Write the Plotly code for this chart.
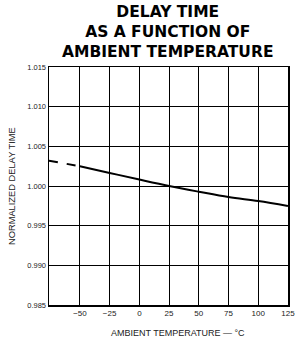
import plotly.graph_objects as go

temps_dashed = [-76, -50]
delay_dashed = [1.0032, 1.00248]
temps_solid = [-50, -25, 0, 25, 50, 75, 100, 125]
delay_solid = [1.00248, 1.00165, 1.00081, 1.0000, 0.99928, 0.9986, 0.9981, 0.99748]

x_ticks = [-50, -25, 0, 25, 50, 75, 100, 125]
x_ticktext = ["\u221250", "\u221225", "0", "25", "50", "75", "100", "125"]
y_ticks = [0.985, 0.990, 0.995, 1.000, 1.005, 1.010, 1.015]
y_ticktext = ["0.985", "0.990", "0.995", "1.000", "1.005", "1.010", "1.015"]

title_text = "DELAY TIME<br>AS A FUNCTION OF<br>AMBIENT TEMPERATURE"
x_title = "AMBIENT TEMPERATURE \u2014 \u00b0C"
y_title = "NORMALIZED DELAY TIME"

font = "Liberation Sans, Arial, sans-serif"
title_font = "DejaVu Sans, Verdana, sans-serif"

W, H = 295, 341
L, R, T, B = 49, 7, 67, 36
pw, ph = W - L - R, H - T - B


def px(xp):
    return (xp - L) / pw


def py(yp):
    return (H - B - yp) / ph


fig = go.Figure()
fig.add_trace(go.Scatter(x=temps_dashed, y=delay_dashed, mode="lines",
                         line=dict(color="black", width=2, dash="dash"),
                         showlegend=False, hoverinfo="skip"))
fig.add_trace(go.Scatter(x=temps_solid, y=delay_solid, mode="lines",
                         line=dict(color="black", width=2, shape="spline"),
                         showlegend=False))

fig.update_layout(
    width=W, height=H,
    margin=dict(l=L, r=R, t=T, b=B, autoexpand=False),
    paper_bgcolor="white", plot_bgcolor="white",
    font=dict(family=font, color="#222"),
    annotations=[
        dict(text="<b>" + title_text + "</b>", xref="paper", yref="paper",
             x=px(167), y=py(32), xanchor="center", yanchor="middle",
             showarrow=False, font=dict(family=title_font, size=15.5, color="black")),
        dict(text=x_title, xref="paper", yref="paper",
             x=px(178), y=py(333), xanchor="center", yanchor="middle",
             showarrow=False, font=dict(family=font, size=9, color="#222")),
        dict(text=y_title, xref="paper", yref="paper", textangle=-90,
             x=px(12), y=py(186), xanchor="center", yanchor="middle",
             showarrow=False, font=dict(family=font, size=9.3, color="#222")),
    ],
)
fig.update_xaxes(range=[-76, 125.05], tickvals=x_ticks, ticktext=x_ticktext,
                 showgrid=True, gridcolor="black", gridwidth=1,
                 showline=True, linecolor="black", linewidth=1.5, mirror=True,
                 ticks="", tickfont=dict(size=8, color="#222"),
                 ticklabeloverflow="allow",
                 zeroline=False, automargin=False)
fig.update_yaxes(range=[0.985, 1.015], tickvals=y_ticks, ticktext=y_ticktext,
                 showgrid=True, gridcolor="black", gridwidth=1,
                 showline=True, linecolor="black", linewidth=1.5, mirror=True,
                 ticks="", tickfont=dict(size=7.5, color="#222"),
                 ticklabeloverflow="allow",
                 zeroline=False, automargin=False)

fig.write_html("out.html", config={"displayModeBar": False, "staticPlot": True},
               post_script="document.body.style.margin='0';"
                           "document.body.style.overflow='hidden';")
